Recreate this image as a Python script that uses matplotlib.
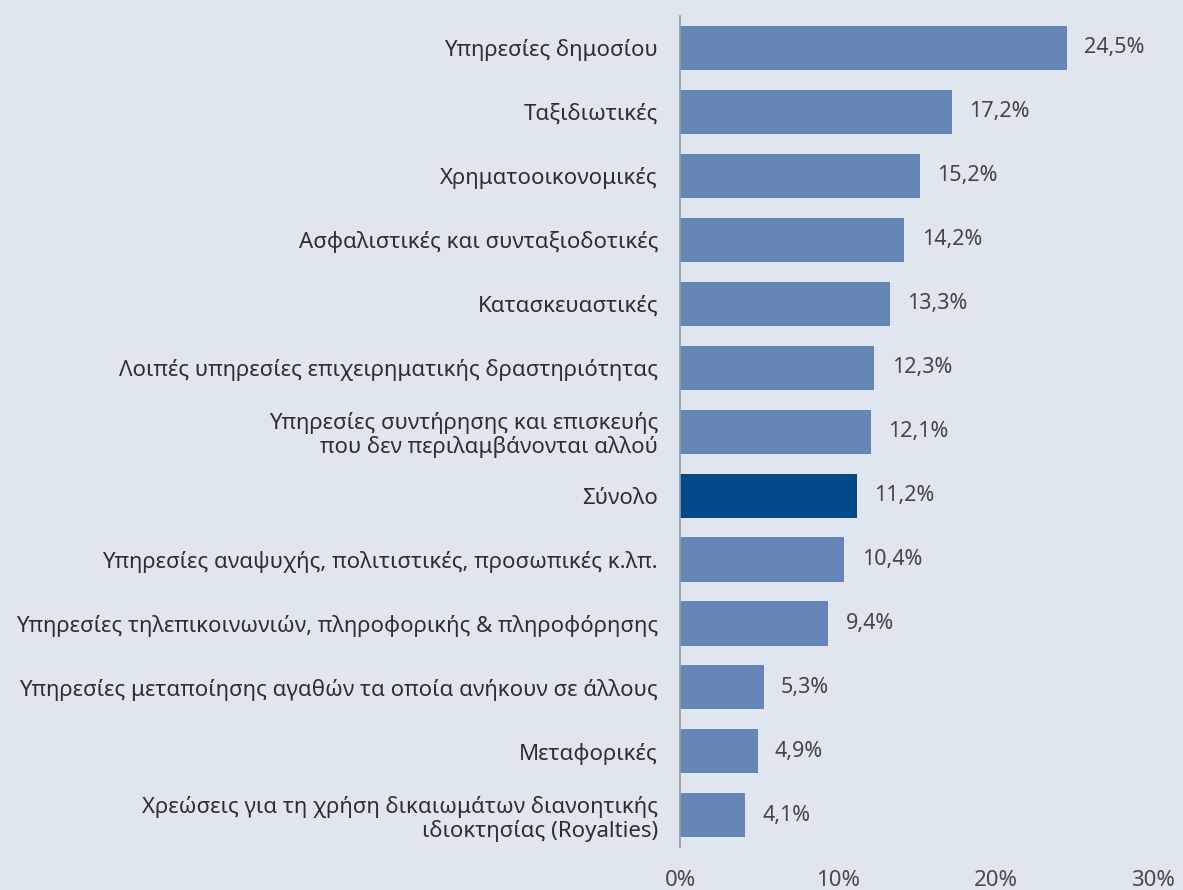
import matplotlib.pyplot as plt

plt.rcParams['font.family'] = ['Noto Sans', 'DejaVu Sans']

# data, top to bottom
categories = [
    "Υπηρεσίες δημοσίου",
    "Ταξιδιωτικές",
    "Χρηματοοικονομικές",
    "Ασφαλιστικές και συνταξιοδοτικές",
    "Κατασκευαστικές",
    "Λοιπές υπηρεσίες επιχειρηματικής δραστηριότητας",
    "Υπηρεσίες συντήρησης και επισκευής\nπου δεν περιλαμβάνονται αλλού",
    "Σύνολο",
    "Υπηρεσίες αναψυχής, πολιτιστικές, προσωπικές κ.λπ.",
    "Υπηρεσίες τηλεπικοινωνιών, πληροφορικής & πληροφόρησης",
    "Υπηρεσίες μεταποίησης αγαθών τα οποία ανήκουν σε άλλους",
    "Μεταφορικές",
    "Χρεώσεις για τη χρήση δικαιωμάτων διανοητικής\nιδιοκτησίας (Royalties)",
]
values = [24.5, 17.2, 15.2, 14.2, 13.3, 12.3, 12.1, 11.2, 10.4, 9.4, 5.3, 4.9, 4.1]
highlight = "Σύνολο"
xticks = [0, 10, 20, 30]

bg = '#dfe6f0'
fig = plt.figure(figsize=(11.83, 8.90), dpi=100, facecolor=bg)
ax = fig.add_axes([0.575, 0.048, 0.4, 0.934], facecolor=bg)

colors = ['#03498a' if c == highlight else '#6686b8' for c in categories]
ypos = range(len(categories))
ax.barh(ypos, values, height=0.69, color=colors)

for y, v in zip(ypos, values):
    ax.text(v + 1.1, y, f"{v:.1f}%".replace('.', ','), va='center', ha='left',
            fontsize=15.5, color='#454545', fontweight='semibold')

ax.set_xlim(0, 30)
ax.set_ylim(len(categories) - 0.5, -0.5)
ax.set_yticks(list(ypos))
ax.set_yticklabels(categories, fontsize=16, color='#2e2e2e', fontweight='medium',
                   linespacing=1.1)
ax.set_xticks(xticks)
ax.set_xticklabels([f"{t}%" for t in xticks], fontsize=16, color='#4a4a4a')
ax.tick_params(axis='y', length=0, pad=16)
ax.tick_params(axis='x', length=0, pad=16)

for s in ['top', 'right', 'bottom']:
    ax.spines[s].set_visible(False)
ax.spines['left'].set_color('#9a9a9a')
ax.spines['left'].set_linewidth(1.2)

fig.savefig('out.png', dpi=100, facecolor=bg)
